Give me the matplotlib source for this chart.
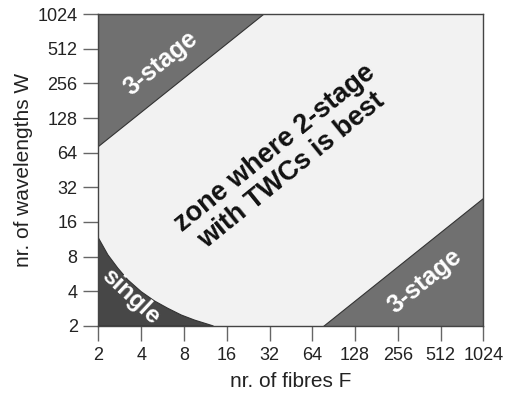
import matplotlib
matplotlib.use("Agg")
import matplotlib.pyplot as plt

plt.rcParams['font.family'] = ['Liberation Sans', 'DejaVu Sans']

# axis ticks
ticks = [2, 4, 8, 16, 32, 64, 128, 256, 512, 1024]
tick_labels = [str(t) for t in ticks]

# top-left 3-stage boundary (F, W)
tl_F = [2, 29]
tl_W = [73, 1024]
# bottom-right 3-stage boundary (F, W)
br_F = [76, 1024]
br_W = [2, 26]
# single-stage boundary curve (F, W)
single_F = [2, 2.33, 2.74, 3.22, 4.0, 4.96, 6.15, 7.66, 9.5, 11.8, 12.9]
single_W = [11.6, 8.3, 6.35, 5.03, 3.97, 3.3, 2.85, 2.49, 2.25, 2.07, 2]

fig = plt.figure(figsize=(5.05, 3.96), dpi=100)
ax = fig.add_axes([0.195, 0.1768, 0.762, 0.7878])
ax.set_xscale('log', base=2)
ax.set_yscale('log', base=2)
ax.set_xlim(2, 1024)
ax.set_ylim(2, 1024)

light = '#f2f2f2'
mid = '#707070'
dark = '#474747'
edge = '#333333'

ax.set_facecolor(light)
# top-left region
ax.fill([tl_F[0], tl_F[0], tl_F[1]], [tl_W[0], 1024, tl_W[1]],
        facecolor=mid, edgecolor=edge, linewidth=0.8, zorder=2)
# bottom-right region
ax.fill([br_F[0], br_F[1], br_F[1]], [br_W[0], 2, br_W[1]],
        facecolor=mid, edgecolor=edge, linewidth=0.8, zorder=2)
# single region
ax.fill(single_F + [2], single_W + [2],
        facecolor=dark, edgecolor=edge, linewidth=0.8, zorder=2)

ax.set_xticks(ticks)
ax.set_xticklabels(tick_labels)
ax.set_yticks(ticks)
ax.set_yticklabels(tick_labels)
ax.minorticks_off()
ax.tick_params(axis='both', direction='out', length=11, width=1,
               color='#666666', labelsize=13, labelcolor='#222222', pad=4)
for s in ax.spines.values():
    s.set_color('#444444')
    s.set_linewidth(1)
    s.set_zorder(5)

ax.set_xlabel('nr. of fibres F', fontsize=15, color='#222222', labelpad=6)
ax.set_ylabel('nr. of wavelengths W', fontsize=15, color='#222222', labelpad=3)

ax.text(40, 56, 'zone where 2-stage\nwith TWCs is best', rotation=39,
        rotation_mode='anchor', ha='center', va='center', fontsize=19.5,
        fontweight='bold', color='#111111', multialignment='center',
        linespacing=1.1, zorder=4)
ax.text(5.5, 380, '3-stage', rotation=39, rotation_mode='anchor',
        ha='center', va='center', fontsize=18, fontweight='bold',
        color='white', zorder=4)
ax.text(395, 4.9, '3-stage', rotation=39, rotation_mode='anchor',
        ha='center', va='center', fontsize=18, fontweight='bold',
        color='white', zorder=4)
ax.text(3.36, 3.6, 'single', rotation=-43, rotation_mode='anchor',
        ha='center', va='center', fontsize=17.5, fontweight='bold',
        color='white', zorder=4)

fig.savefig('out.png', dpi=100)
